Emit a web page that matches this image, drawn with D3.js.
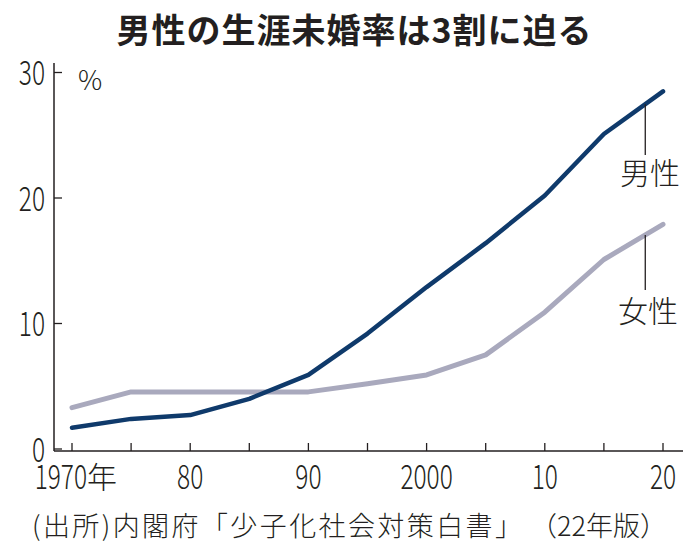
<!DOCTYPE html>
<html><head><meta charset="utf-8">
<script src="https://cdn.jsdelivr.net/npm/d3@7"></script>
<style>
html,body{margin:0;padding:0;background:#fff;}
svg{display:block;}
text{font-family:"Noto Sans CJK JP","Noto Sans",sans-serif;fill:#231f20;}
</style></head>
<body>
<svg id="c" width="700" height="553"></svg>
<script>
const title = "男性の生涯未婚率は3割に迫る";
const source1 = "(出所)内閣府「少子化社会対策白書」";
const source2 = "（22年版）";
const years = [1970,1975,1980,1985,1990,1995,2000,2005,2010,2015,2020];
const male = [1.7,2.4,2.7,4.0,5.9,9.2,12.9,16.4,20.2,25.1,28.5];
const female = [3.3,4.55,4.55,4.55,4.55,5.2,5.9,7.5,10.9,15.1,17.9];
const yTicks = [0,10,20,30];
const xTickYears = [1970,1980,1990,2000,2010,2020];
const xTickLabels = ["1970","80","90","2000","10","20"];
const yearSuffix = "年";
const seriesNames = ["男性","女性"];

const svg = d3.select("#c");
const x = d3.scaleLinear().domain([1970,2020]).range([72,663]);
const y = d3.scaleLinear().domain([0,30]).range([449,72.5]);
const axisX = 54, baseY = 451;

// title
svg.append("text").attr("x",354).attr("y",43).attr("text-anchor","middle")
  .attr("font-size",34).attr("font-weight",700).attr("textLength",475).attr("lengthAdjust","spacing")
  .text(title);

// y axis
svg.append("line").attr("x1",axisX).attr("x2",axisX).attr("y1",63).attr("y2",baseY)
  .attr("stroke","#231f20").attr("stroke-width",1.5);
const yt = svg.append("g");
yTicks.forEach(v=>{
  yt.append("line").attr("x1",axisX).attr("x2",axisX+8).attr("y1",y(v)).attr("y2",y(v))
    .attr("stroke","#231f20").attr("stroke-width",1.3);
  yt.append("text").attr("transform",`translate(45,${y(v)+12.5}) scale(0.72,1)`)
    .attr("text-anchor","end").attr("font-size",34).attr("font-weight",300).text(v);
});
svg.append("text").attr("x",78).attr("y",90).attr("font-size",27).attr("font-weight",300).text("%");

// x axis
svg.append("line").attr("x1",axisX).attr("x2",683).attr("y1",baseY).attr("y2",baseY)
  .attr("stroke","#231f20").attr("stroke-width",1.5);
years.forEach(v=>{
  svg.append("line").attr("x1",x(v)).attr("x2",x(v)).attr("y1",baseY-8).attr("y2",baseY)
    .attr("stroke","#231f20").attr("stroke-width",1.3);
});
xTickYears.forEach((v,i)=>{
  if(i===0){
    svg.append("text").attr("transform",`translate(${x(v)+15},489) scale(0.72,1)`)
      .attr("text-anchor","end").attr("font-size",34).attr("font-weight",300).text(xTickLabels[i]);
    svg.append("text").attr("x",x(v)+15).attr("y",488)
      .attr("font-size",30).attr("font-weight",300).text(yearSuffix);
  } else {
    svg.append("text").attr("transform",`translate(${x(v)},489) scale(0.72,1)`)
      .attr("text-anchor","middle").attr("font-size",34).attr("font-weight",300).text(xTickLabels[i]);
  }
});

// lines
const line = d3.line().x((d,i)=>x(years[i])).y(d=>y(d));
svg.append("path").datum(female).attr("d",line).attr("fill","none")
  .attr("stroke","#a9a9bd").attr("stroke-width",5).attr("stroke-linecap","round").attr("stroke-linejoin","round");
svg.append("path").datum(male).attr("d",line).attr("fill","none")
  .attr("stroke","#0f3a6b").attr("stroke-width",4.5).attr("stroke-linecap","round").attr("stroke-linejoin","round");

// series labels with leaders
function interp(arr, yr){
  const i = d3.bisectRight(years, yr)-1;
  const t = (yr-years[i])/(years[i+1]-years[i]);
  return arr[i]+(arr[i+1]-arr[i])*t;
}
const lblYear = 2018.5;
[[male,155,184,650],[female,290,322,648]].forEach(([arr,y2,ty,tx],k)=>{
  const lx = x(lblYear);
  svg.append("line").attr("x1",lx).attr("x2",lx).attr("y1",y(interp(arr,lblYear))).attr("y2",y2)
    .attr("stroke","#231f20").attr("stroke-width",1.3);
  svg.append("text").attr("x",tx).attr("y",ty).attr("text-anchor","middle")
    .attr("font-size",30).attr("font-weight",300).text(seriesNames[k]);
});

// source
svg.append("text").attr("x",32).attr("y",536).attr("font-size",27).attr("font-weight",300)
  .attr("textLength",490).attr("lengthAdjust","spacing").text(source1);
svg.append("text").attr("x",530).attr("y",536).attr("font-size",27).attr("font-weight",300)
  .text(source2);
</script>
</body></html>
